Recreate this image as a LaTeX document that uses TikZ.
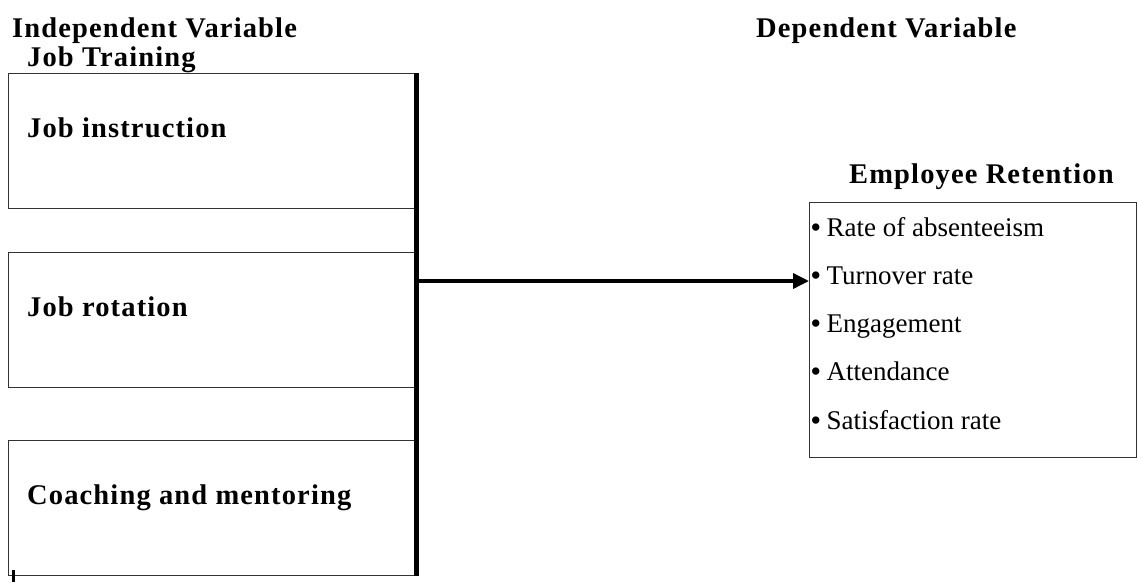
\documentclass[tikz,border=0pt]{standalone}
\usepackage{fontspec}
\setmainfont{Liberation Serif}
\usetikzlibrary{arrows.meta}
\newfontfamily\boldwide[LetterSpace=4]{Liberation Serif Bold}
\begin{document}
\begin{tikzpicture}[x=1pt,y=-1pt,
  box/.style={draw=black!80, line width=1.3pt, minimum width=407pt, minimum height=135pt, anchor=north west, inner sep=0pt},
  rbox/.style={draw=black!80, line width=1.3pt, anchor=north west, inner sep=0pt, minimum width=327pt, minimum height=255pt},
  title/.style={font=\fontsize{28.5}{32}\boldwide, anchor=base west, inner sep=0pt},
  boxtext/.style={font=\fontsize{28.5}{32}\boldwide, anchor=base west, inner sep=0pt},
  item/.style={font=\fontsize{27}{32}\selectfont, anchor=base west, inner sep=0pt},
  spine/.style={line width=4.5pt},
  link/.style={line width=3.5pt, -{Triangle[length=16pt,width=15pt]}}
]
\useasboundingbox (0,0) rectangle (1138,582);

% titles
\node[title] (iv) at (12,37) {Independent Variable};
\node[title] (jt) at (27,66) {Job Training};
\node[title] (dv) at (756,37) {Dependent Variable};

% left boxes
\node[box] (b1) at (8,73) {};
\node[box] (b2) at (8,252) {};
\node[box] (b3) at (8,440) {};
\node[boxtext] (t1) at ([xshift=19pt,yshift=-64pt]b1.north west) {Job instruction};
\node[boxtext] (t2) at ([xshift=19pt,yshift=-64pt]b2.north west) {Job rotation};
\node[boxtext] (t3) at ([xshift=19pt,yshift=-64pt]b3.north west) {Coaching and mentoring};

% spine
\draw[spine] (b1.north east) -- (b3.south east);
\coordinate (tick) at (13.5,570);
\draw[line width=3.5pt] (tick) -- ++(0,12);

% right box
\node[title] (ert) at (849,183) {Employee Retention};
\node[rbox] (er) at (809,202) {};
\node[item] (i1) at (811,236) {\textbf{•}\kern6pt Rate of absenteeism};
\node[item] (i2) at (811,284) {\textbf{•}\kern6pt Turnover rate};
\node[item] (i3) at (811,332) {\textbf{•}\kern6pt Engagement};
\node[item] (i4) at (811,380) {\textbf{•}\kern6pt Attendance};
\node[item] (i5) at (811,429) {\textbf{•}\kern6pt Satisfaction rate};

% arrow
\coordinate (from) at (415,281);
\draw[link] (from) -- (from -| er.west);
\end{tikzpicture}
\end{document}
